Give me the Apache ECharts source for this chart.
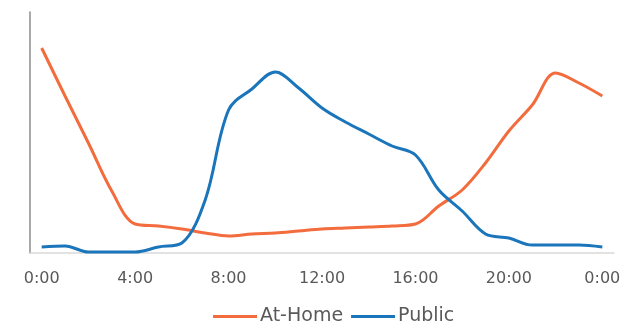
<!DOCTYPE html>
<html><head><meta charset="utf-8">
<script src="https://cdn.jsdelivr.net/npm/echarts@6/dist/echarts.min.js"></script>
<style>html,body{margin:0;padding:0;background:#fff}#c{width:624px;height:321px}</style>
</head><body><div id="c"></div>
<script>
const hours = ['0:00','1:00','2:00','3:00','4:00','5:00','6:00','7:00','8:00','9:00','10:00','11:00','12:00','13:00','14:00','15:00','16:00','17:00','18:00','19:00','20:00','21:00','22:00','23:00','0:00'];
const atHome = [205,157,110,62,29,27,24,20,17,19,20,22,24,25,26,27,29,47,63,90,122,148,180,170,157];
const publicLoad = [6,7,1,1,1,6,10,53,143,164,181,165,145,131,119,107,98,63,42,19,15,8,8,8,6];
const seriesNames = ['At-Home','Public'];

const chart = echarts.init(document.getElementById('c'));
chart.setOption({
  animation:false,
  grid:{left:30,right:10,top:12,bottom:68},
  legend:{
    data:seriesNames, top:302, left:208, icon:'rect', itemWidth:44, itemHeight:3, itemGap:8,
    textStyle:{fontFamily:'DejaVu Sans',fontSize:19,color:'#595959',padding:[0,0,0,-2]}
  },
  xAxis:{
    type:'category', data:hours, boundaryGap:true,
    axisLine:{lineStyle:{color:'#d9d9d9',width:1.5}},
    axisTick:{show:false},
    axisLabel:{interval:3,margin:18,color:'#595959',fontFamily:'DejaVu Sans',fontSize:16}
  },
  yAxis:{
    type:'value', min:0, max:241,
    axisLine:{show:true,lineStyle:{color:'#8c8c8c',width:1.5}},
    axisLabel:{show:false}, axisTick:{show:false}, splitLine:{show:false}
  },
  series:[
    {name:seriesNames[0],type:'line',data:atHome,smooth:0.35,symbol:'none',lineStyle:{color:'#F36C3D',width:3},itemStyle:{color:'#F36C3D'}},
    {name:seriesNames[1],type:'line',data:publicLoad,smooth:0.35,symbol:'none',lineStyle:{color:'#1B75BB',width:3},itemStyle:{color:'#1B75BB'}}
  ]
});
</script></body></html>
